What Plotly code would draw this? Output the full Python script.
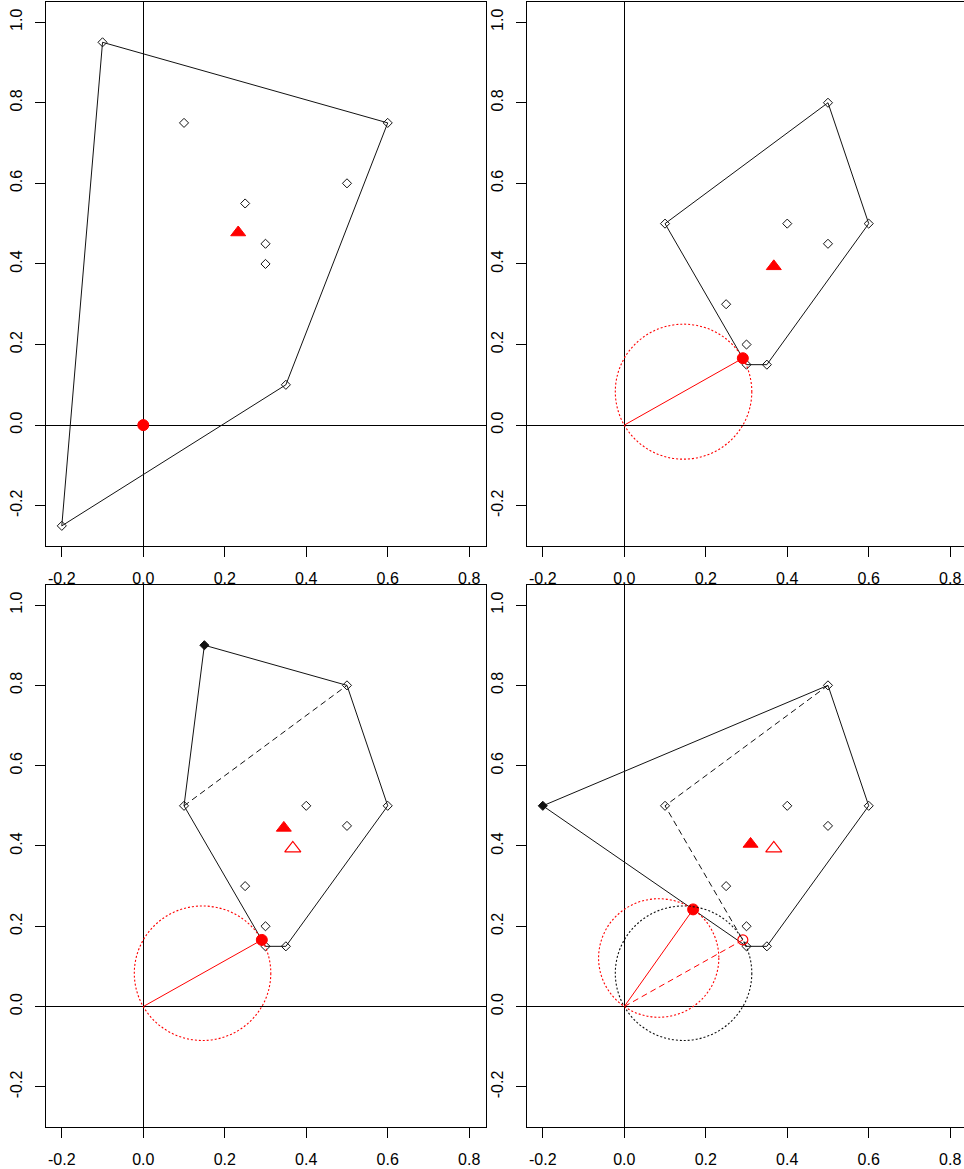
import math
import plotly.graph_objects as go

# ---- sample used in the first panel ----
pts1_x = [-0.1, 0.6, 0.1, 0.5, 0.25, 0.3, 0.3, 0.35, -0.2]
pts1_y = [0.95, 0.75, 0.75, 0.6, 0.55, 0.45, 0.4, 0.1, -0.25]
hull1_x = [-0.2, 0.35, 0.6, -0.1, -0.2]
hull1_y = [-0.25, 0.1, 0.75, 0.95, -0.25]
mean1 = [0.233, 0.478]
near1 = [0.0, 0.0]

# ---- sample used in panels 2-4 ----
pts2_x = [0.5, 0.1, 0.6, 0.4, 0.5, 0.25, 0.3, 0.3, 0.35]
pts2_y = [0.8, 0.5, 0.5, 0.5, 0.45, 0.3, 0.2, 0.15, 0.15]
hull2_x = [0.1, 0.5, 0.6, 0.35, 0.3, 0.1]
hull2_y = [0.5, 0.8, 0.5, 0.15, 0.15, 0.5]
mean2 = [0.367, 0.394]
near2 = [0.291, 0.166]

# panel 3: one extra point added at the top
new3 = [0.15, 0.9]
hull3_x = [0.1, 0.15, 0.5, 0.6, 0.35, 0.3, 0.1]
hull3_y = [0.5, 0.9, 0.8, 0.5, 0.15, 0.15, 0.5]
old3_x = [0.1, 0.5]
old3_y = [0.5, 0.8]
mean3 = [0.345, 0.445]

# panel 4: one extra point added on the left
new4 = [-0.2, 0.5]
hull4_x = [-0.2, 0.5, 0.6, 0.35, 0.3, -0.2]
hull4_y = [0.5, 0.8, 0.5, 0.15, 0.15, 0.5]
old4_x = [0.5, 0.1, 0.3]
old4_y = [0.8, 0.5, 0.15]
mean4 = [0.31, 0.405]
near4 = [0.169, 0.242]

# axis ticks
xtick_vals = [-0.2, 0.0, 0.2, 0.4, 0.6, 0.8]
xtick_text = ["-0.2", "0.0", "0.2", "0.4", "0.6", "0.8"]
ytick_vals = [-0.2, 0.0, 0.2, 0.4, 0.6, 0.8, 1.0]
ytick_text = ["-0.2", "0.0", "0.2", "0.4", "0.6", "0.8", "1.0"]

W, H = 964, 1169
RED = "#ff0000"
INK = "#111111"
DASH = "6px,4px"
DOTS = "2px,2px"
FONT = dict(family="Liberation Sans, Arial, sans-serif", size=16, color="#000000")

fig = go.Figure()


def ax_names(i):
    s = "" if i == 1 else str(i)
    return "x" + s, "y" + s


def add_points(i, xs, ys):
    xa, ya = ax_names(i)
    fig.add_trace(go.Scatter(
        x=xs, y=ys, xaxis=xa, yaxis=ya, mode="markers",
        marker=dict(symbol="diamond-open", size=7, color=INK, line=dict(width=1, color=INK)),
        showlegend=False, hoverinfo="skip"))


def add_line(i, xs, ys, color=INK, dash="solid", width=1):
    xa, ya = ax_names(i)
    fig.add_trace(go.Scatter(
        x=xs, y=ys, xaxis=xa, yaxis=ya, mode="lines",
        line=dict(color=color, width=width, dash=dash),
        showlegend=False, hoverinfo="skip"))


def add_marker(i, pt, symbol, size, color=RED, lw=1):
    xa, ya = ax_names(i)
    fig.add_trace(go.Scatter(
        x=[pt[0]], y=[pt[1]], xaxis=xa, yaxis=ya, mode="markers",
        marker=dict(symbol=symbol, size=size, color=color, line=dict(width=lw, color=color)),
        showlegend=False, hoverinfo="skip"))


def add_circle(i, pt, color, dash=DOTS):
    # circle whose diameter runs from the origin to pt
    xa, ya = ax_names(i)
    cx, cy = pt[0] / 2, pt[1] / 2
    r = math.hypot(pt[0], pt[1]) / 2
    fig.add_shape(type="circle", xref=xa, yref=ya,
                  x0=cx - r, x1=cx + r, y0=cy - r, y1=cy + r,
                  line=dict(color=color, width=1.1, dash=dash), layer="above")


# panel 1
add_points(1, pts1_x, pts1_y)
add_line(1, hull1_x, hull1_y)
add_marker(1, mean1, "triangle-up", 13)
add_marker(1, near1, "circle", 11)

# panel 2
add_points(2, pts2_x, pts2_y)
add_line(2, hull2_x, hull2_y)
add_circle(2, near2, RED)
add_line(2, [0, near2[0]], [0, near2[1]], color=RED)
add_marker(2, mean2, "triangle-up", 13)
add_marker(2, near2, "circle", 11)

# panel 3
add_points(3, pts2_x, pts2_y)
add_line(3, old3_x, old3_y, dash=DASH)
add_line(3, hull3_x, hull3_y)
add_marker(3, new3, "diamond", 7, color=INK)
add_circle(3, near2, RED)
add_line(3, [0, near2[0]], [0, near2[1]], color=RED)
add_marker(3, mean3, "triangle-up", 13)
add_marker(3, mean2, "triangle-up-open", 14, lw=1.2)
add_marker(3, near2, "circle", 11)

# panel 4
add_points(4, pts2_x, pts2_y)
add_line(4, old4_x, old4_y, dash=DASH)
add_line(4, hull4_x, hull4_y)
add_marker(4, new4, "diamond", 7, color=INK)
add_circle(4, near2, INK)
add_circle(4, near4, RED)
add_line(4, [0, near2[0]], [0, near2[1]], color=RED, dash=DASH)
add_line(4, [0, near4[0]], [0, near4[1]], color=RED)
add_marker(4, mean4, "triangle-up", 13)
add_marker(4, mean2, "triangle-up-open", 14, lw=1.2)
add_marker(4, near2, "circle-open", 10, lw=1.2)
add_marker(4, near4, "circle", 11)

# panel geometry (pixels)
left_x = (45.5, 485.5)
right_x = (526.5, 964.0)
top_y = (2.0, 546.0)
bot_y = (585.0, 1127.0)
xr_left = [-0.24, 0.84]
xr_right = [-0.24, -0.24 + (right_x[1] - right_x[0]) / (left_x[1] - left_x[0]) * 1.08]
yr = [-0.3, 1.05]

panels = [
    (1, left_x, top_y, xr_left, True),
    (2, right_x, top_y, xr_right, False),
    (3, left_x, bot_y, xr_left, True),
    (4, right_x, bot_y, xr_right, False),
]

for i, (px0, px1), (py0, py1), xr, mirror_y in panels:
    s = "" if i == 1 else str(i)
    common = dict(showline=True, linecolor="#000000", linewidth=1,
                  ticks="outside", ticklen=10, tickwidth=1, tickcolor="#000000",
                  showgrid=False, zeroline=True, zerolinecolor="#000000",
                  zerolinewidth=1.3, tickfont=FONT, fixedrange=True)
    fig.layout["xaxis" + s] = dict(
        common, domain=[px0 / W, px1 / W], range=xr, anchor="y" + s,
        mirror=True, tickmode="array", tickvals=xtick_vals, ticktext=xtick_text,
        ticklabelstandoff=8)
    fig.layout["yaxis" + s] = dict(
        common, domain=[1 - py1 / H, 1 - py0 / H], range=yr, anchor="x" + s,
        mirror=mirror_y, tickmode="array", tickvals=ytick_vals, ticktext=ytick_text,
        tickangle=-90, ticklabelstandoff=6)

fig.update_layout(width=W, height=H, margin=dict(l=0, r=0, t=0, b=0),
                  paper_bgcolor="white", plot_bgcolor="white", showlegend=False)

fig.write_html("out.html")
